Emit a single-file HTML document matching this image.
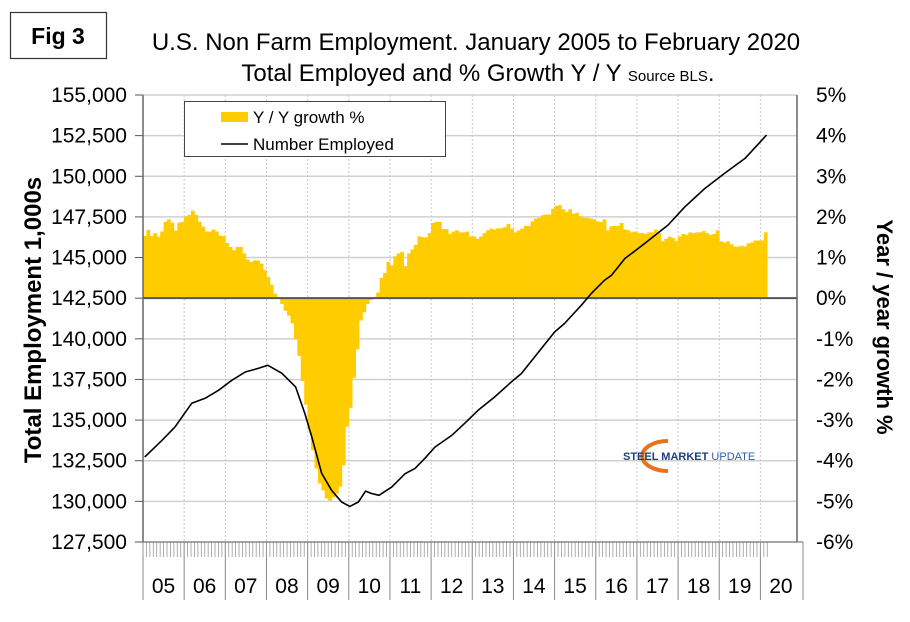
<!DOCTYPE html>
<html><head><meta charset="utf-8"><style>
body{margin:0;background:#fff;}
svg{display:block;font-family:"Liberation Sans",Arial,sans-serif;}
</style></head><body>
<svg id="chart" width="910" height="622" viewBox="0 0 910 622">
<rect x="10.5" y="12.5" width="96" height="46" fill="#fff" stroke="#333" stroke-width="1.2"/>
<text x="58" y="44" text-anchor="middle" font-size="23" font-weight="bold">Fig 3</text>
<text x="476" y="50" text-anchor="middle" font-size="24">U.S. Non Farm Employment. January 2005 to February 2020</text>
<text x="478" y="81" text-anchor="middle" font-size="24">Total Employed and % Growth Y / Y <tspan font-size="15">Source BLS</tspan>.</text>
<g id="grid"></g><g id="bars"></g><g id="zero"></g><g id="line"></g><g id="axes"></g>
<g>
<path d="M668,441 A24,14 0 1,0 668,471" fill="none" stroke="#e8731c" stroke-width="4"/>
<text x="623" y="460" font-size="11" font-weight="bold" fill="#1d3f7a">STEEL MARKET <tspan font-weight="normal" fill="#2e5fa8">UPDATE</tspan></text>
</g>
<g>
<rect x="184.5" y="101.5" width="261" height="55" fill="#fff" stroke="#444"/>
<rect x="221" y="112" width="27" height="10" fill="#ffcc00"/>
<text x="253" y="123" font-size="17">Y / Y growth %</text>
<line x1="221" y1="144" x2="248" y2="144" stroke="#000" stroke-width="1.5"/>
<text x="253" y="150" font-size="17">Number Employed</text>
</g>
<text transform="translate(41,320) rotate(-90)" text-anchor="middle" font-size="24" font-weight="bold">Total Employment 1,000s</text>
<text transform="translate(877,327) rotate(90)" text-anchor="middle" font-size="22" font-weight="bold">Year / year growth %</text>
</svg>
<script>
const growth=[1.53,1.68,1.53,1.6,1.51,1.64,1.88,1.94,1.86,1.66,1.86,1.88,
2.01,2.05,2.15,2.05,1.88,1.76,1.64,1.64,1.69,1.64,1.54,1.53,
1.36,1.26,1.18,1.26,1.26,1.1,0.95,0.89,0.93,0.93,0.85,0.69,
0.52,0.33,0.11,-0.02,-0.14,-0.31,-0.43,-0.62,-1.01,-1.42,-2.04,-2.62,
-3.24,-3.74,-4.19,-4.56,-4.73,-4.93,-4.98,-4.9,-4.81,-4.64,-4.11,-3.16,
-2.7,-1.96,-1.26,-0.55,-0.35,-0.14,-0.04,0.01,0.14,0.5,0.62,0.89,
0.81,1.03,1.1,1.14,0.79,1.1,1.2,1.31,1.52,1.5,1.5,1.6,
1.85,1.88,1.88,1.7,1.7,1.58,1.64,1.67,1.62,1.62,1.64,1.52,
1.52,1.46,1.52,1.6,1.67,1.71,1.69,1.72,1.72,1.75,1.83,1.71,
1.62,1.67,1.71,1.78,1.78,1.89,1.96,1.98,2.04,2.06,2.06,2.2,
2.27,2.29,2.19,2.12,2.19,2.08,2.1,2.02,1.98,1.98,1.96,1.94,
1.89,1.87,1.94,1.67,1.77,1.78,1.78,1.85,1.69,1.67,1.62,1.64,
1.6,1.6,1.58,1.62,1.62,1.69,1.6,1.4,1.46,1.51,1.48,1.4,
1.52,1.58,1.56,1.62,1.6,1.62,1.62,1.65,1.6,1.56,1.58,1.67,
1.4,1.37,1.4,1.33,1.27,1.27,1.29,1.27,1.35,1.37,1.42,1.42,
1.42,1.62];
const lineMonths=[0,5,8.8,13.7,17.6,21.5,25.4,29.3,33.1,35.9,40,44,46.7,48.7,51.6,54.5,57.4,59.8,62.3,64.4,66,68.3,72,75.9,78.8,81.7,84.6,89.5,93.3,97.2,102,106.9,109.8,113.7,119.5,122.4,127.3,130.2,134.1,136.1,140,145.8,152.6,157.5,163.3,169.1,175,181.3];
const lineValues=[132730,133750,134570,136030,136340,136830,137450,137960,138180,138370,137880,137040,135400,133960,131720,130680,129960,129690,129960,130630,130490,130370,130880,131700,132030,132650,133340,134060,134800,135600,136420,137350,137860,138890,140420,140940,142070,142790,143610,143910,144940,145870,147000,148120,149250,150180,151100,152540];
const leftTicks=["155,000","152,500","150,000","147,500","145,000","142,500","140,000","137,500","135,000","132,500","130,000","127,500"];
const rightTicks=["5%","4%","3%","2%","1%","0%","-1%","-2%","-3%","-4%","-5%","-6%"];
const yearLabels=["05","06","07","08","09","10","11","12","13","14","15","16","17","18","19","20"];

const NS="http://www.w3.org/2000/svg";
const X0=143,X1=797,Y0=95,Y1=542,MW=3.43;
const xm=m=>X0+m*MW;
const yL=v=>Y0+(155000-v)/27500*(Y1-Y0);
const yR=p=>Y0+(5-p)/11*(Y1-Y0);
function mk(tag,attrs,parent){const e=document.createElementNS(NS,tag);for(const k in attrs)e.setAttribute(k,attrs[k]);parent.appendChild(e);return e;}
const grid=document.getElementById('grid'),bars=document.getElementById('bars'),axes=document.getElementById('axes');
leftTicks.forEach((t,i)=>{
 const y=Y0+i*(Y1-Y0)/11;
 const g=mk('line',{x1:X0,x2:X1,y1:y,y2:y,stroke:'#d0d0d0','stroke-width':1.5},grid);
 
 
 mk('line',{x1:X0-8,x2:X0,y1:y,y2:y,stroke:'#555'},axes);
 const tl=mk('text',{x:127,y:y+7,'text-anchor':'end','font-size':21},axes);tl.textContent=t;
 
 
 const tr=mk('text',{x:816,y:y+7,'text-anchor':'start','font-size':21},axes);tr.textContent=rightTicks[i];
 
 
});
yearLabels.forEach((lab,i)=>{
 const x=xm(i*12);
 if(i>0){const v=mk('line',{x1:x,x2:x,y1:Y0,y2:Y1,stroke:'#c8c8c8','stroke-dasharray':'2,2'},grid);
 
 }
 mk('line',{x1:x,x2:x,y1:Y1,y2:600,stroke:'#888'},axes);
 const t=mk('text',{x:x+20.5,y:593,'text-anchor':'middle','font-size':21},axes);t.textContent=lab;
 
 
});
mk('line',{x1:X1+6,x2:X1+6,y1:Y1,y2:600,stroke:'#888'},axes);
for(let m=0;m<=182;m++){mk('line',{x1:xm(m),x2:xm(m),y1:Y1,y2:Y1+15,stroke:'#999','stroke-width':0.8},axes);}
mk('line',{x1:X0,x2:X1+6,y1:Y1,y2:Y1,stroke:'#666'},axes);
mk('line',{x1:X0,x2:X0,y1:Y0,y2:Y1,stroke:'#666','stroke-width':1.5},axes);
mk('line',{x1:X1,x2:X1,y1:Y0,y2:Y1,stroke:'#666','stroke-width':1.5},axes);
growth.forEach((v,i)=>{
 const y0=yR(0),y=yR(v);
 const b=mk('rect',{x:xm(i),y:Math.min(y,y0),width:MW+0.3,height:Math.abs(y-y0),fill:'#ffcc00'},bars);
 
 
});
const z=mk('line',{x1:X0,x2:X1,y1:yR(0),y2:yR(0),stroke:'#555','stroke-width':2},document.getElementById('zero'));


const pts=lineMonths.map((m,i)=>xm(m+0.5).toFixed(1)+','+yL(lineValues[i]).toFixed(1)).join(' ');
const pl=mk('polyline',{points:pts,fill:'none',stroke:'#000','stroke-width':1.6,'stroke-linejoin':'round'},document.getElementById('line'));


</script>
</body></html>
